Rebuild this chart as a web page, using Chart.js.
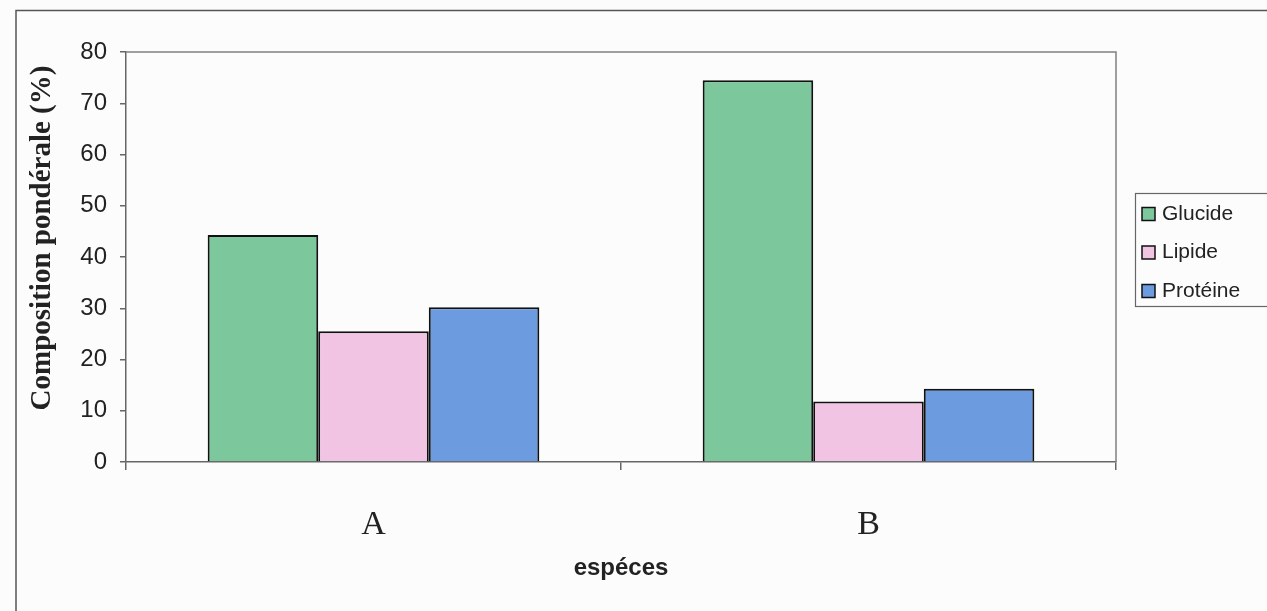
<!DOCTYPE html>
<html><head><meta charset="utf-8">
<script src="https://cdn.jsdelivr.net/npm/chart.js@4.4.0/dist/chart.umd.min.js"></script>
<style>html,body{margin:0;padding:0;background:#fcfcfc;}canvas{display:block}</style>
</head><body>
<canvas id="c" width="1267" height="611"></canvas>
<script>
const categories = ['A', 'B'];
const seriesNames = ['Glucide', 'Lipide', 'Protéine'];
const glucide = [44.3, 74.5];
const lipide = [25.5, 11.8];
const proteine = [30.2, 14.3];
const yMin = 0, yMax = 80, yStep = 10;
const yTitle = 'Composition pondérale (%)';
const xTitle = 'espéces';
const colors = ['#7cc89c', '#f2c4e4', '#6c9be0'];

const framePlugin = {
  id: 'frame',
  afterDraw(chart) {
    const ctx = chart.ctx;
    const a = chart.chartArea;
    ctx.save();
    // plot area top / right borders
    ctx.strokeStyle = '#808080';
    ctx.lineWidth = 1.5;
    ctx.beginPath();
    ctx.moveTo(a.left, a.top);
    ctx.lineTo(a.right, a.top);
    ctx.lineTo(a.right, a.bottom);
    ctx.stroke();
    // outer chart frame
    ctx.strokeStyle = '#555';
    ctx.lineWidth = 1.5;
    ctx.beginPath();
    ctx.moveTo(16, 611);
    ctx.lineTo(16, 10.5);
    ctx.lineTo(1267, 10.5);
    ctx.stroke();
    // y axis title
    ctx.save();
    ctx.translate(43, 238);
    ctx.rotate(-Math.PI / 2);
    ctx.font = 'bold 29px "Liberation Serif", "Times New Roman", serif';
    ctx.fillStyle = '#222';
    ctx.textAlign = 'center';
    ctx.textBaseline = 'middle';
    ctx.fillText(yTitle, 0, 0);
    ctx.restore();
    // legend
    ctx.strokeStyle = '#666';
    ctx.lineWidth = 1.2;
    ctx.strokeRect(1135.5, 193.5, 200, 113);
    ctx.font = '21px "Liberation Sans", Arial, sans-serif';
    ctx.textBaseline = 'middle';
    ctx.textAlign = 'left';
    chart.data.datasets.forEach((ds, i) => {
      const y = 214 + i * 38.5;
      ctx.fillStyle = ds.backgroundColor;
      ctx.fillRect(1142, y - 6.5, 13, 13);
      ctx.strokeStyle = '#111';
      ctx.lineWidth = 1.5;
      ctx.strokeRect(1142, y - 6.5, 13, 13);
      ctx.fillStyle = '#222';
      ctx.fillText(ds.label, 1162, y);
    });
    ctx.restore();
  }
};

new Chart(document.getElementById('c'), {
  type: 'bar',
  data: {
    labels: categories,
    datasets: [
      { label: seriesNames[0], data: glucide, backgroundColor: colors[0] },
      { label: seriesNames[1], data: lipide, backgroundColor: colors[1] },
      { label: seriesNames[2], data: proteine, backgroundColor: colors[2] }
    ].map(d => Object.assign(d, { borderColor: '#111', borderWidth: 2, barPercentage: 1, categoryPercentage: 0.67 }))
  },
  options: {
    responsive: false,
    animation: false,
    devicePixelRatio: 1,
    layout: { padding: { left: 0, top: 52, right: 151, bottom: 0 } },
    plugins: { legend: { display: false }, tooltip: { enabled: false } },
    scales: {
      x: {
        offset: true,
        afterFit(s) { s.height = 149; },
        grid: { offset: true, drawOnChartArea: false, drawTicks: true, tickLength: 8, color: '#666', lineWidth: 1.5 },
        border: { display: true, color: '#666', width: 1.5 },
        ticks: { color: '#222', padding: 35, font: { family: '"Liberation Serif", "Times New Roman", serif', size: 34 } },
        title: { display: true, text: xTitle, color: '#222', padding: { top: 0, bottom: 28 },
                 font: { family: '"Liberation Sans", Arial, sans-serif', size: 24, weight: 'bold' } }
      },
      y: {
        min: yMin, max: yMax,
        afterFit(s) { s.width = 126; },
        grid: { drawOnChartArea: false, drawTicks: true, tickLength: 6, color: '#666', lineWidth: 1.5 },
        border: { display: true, color: '#666', width: 1.5 },
        ticks: { stepSize: yStep, color: '#222', padding: 13, font: { family: '"Liberation Sans", Arial, sans-serif', size: 24 } },
        title: { display: false }
      }
    }
  },
  plugins: [framePlugin]
});
</script>
</body></html>
